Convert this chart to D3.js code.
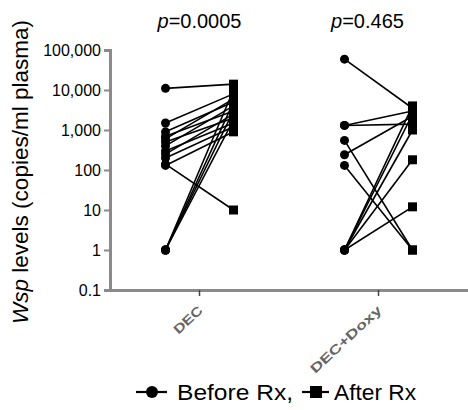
<!DOCTYPE html>
<html>
<head>
<meta charset="utf-8">
<script src="https://cdn.jsdelivr.net/npm/d3@7"></script>
<style>
  body { margin: 0; background: #fff; }
  text { font-family: "Liberation Sans", Arial, sans-serif; }
</style>
</head>
<body>
<div id="chart"></div>
<script>
// groups on the x axis
const categories = ["DEC", "DEC+Doxy"];
const pValues = ["0.0005", "0.465"];
const yTicks = [0.1, 1, 10, 100, 1000, 10000, 100000];

// paired Wsp levels (copies/ml plasma), one entry per subject
const decBefore = [11000, 1500, 900, 700, 600, 500, 400, 300, 250, 200, 140, 130, 1, 1, 1, 1];
const decAfter  = [14000, 8000, 5000, 3000, 6000, 2000, 4000, 1500, 2500, 1200, 10, 900, 10000, 5000, 3000, 1800];
const doxyBefore = [59000, 1300, 1300, 550, 240, 130, 1, 1, 1, 1, 1];
const doxyAfter  = [3500, 3000, 1400, 1, 2200, 1, 180, 12, 4000, 2500, 1000];

const width = 468, height = 410;
const margin = {top: 50, left: 110, bottom: 120, right: 0};

const svg = d3.select('#chart').append('svg')
  .attr('width', width).attr('height', height);

const x = d3.scaleBand()
  .domain(categories)
  .range([margin.left, width - margin.right]);

const pair = d3.scalePoint()
  .domain(['before', 'after'])
  .range([-34, 34]);

const y = d3.scaleLog()
  .domain([0.1, 100000])
  .range([height - margin.bottom, margin.top]);

const axisColor = '#8a8a8a';

// y axis
const yAxis = svg.append('g')
  .attr('transform', `translate(${margin.left},0)`)
  .call(d3.axisLeft(y).tickValues(yTicks).tickSize(6).tickPadding(3)
    .tickFormat(d => d < 1 ? '0.1' : d3.format(',')(d)));
yAxis.select('.domain').attr('stroke', axisColor).attr('stroke-width', 3);
yAxis.selectAll('.tick line').attr('stroke', axisColor).attr('stroke-width', 2);
yAxis.selectAll('.tick text').attr('fill', '#000').style('font-size', '16px');

// x axis
const xAxis = svg.append('g')
  .attr('transform', `translate(0,${height - margin.bottom})`)
  .call(d3.axisBottom(x).tickSize(6).tickSizeOuter(0));
xAxis.select('.domain').attr('stroke', axisColor).attr('stroke-width', 3);
xAxis.selectAll('.tick line').attr('stroke', '#444').attr('stroke-width', 1.5);
xAxis.selectAll('.tick text')
  .attr('fill', '#666')
  .style('font-size', '13px').style('font-weight', 'bold')
  .attr('text-anchor', 'end')
  .attr('x', 0).attr('y', 0).attr('dy', '0.35em')
  .attr('transform', 'translate(1,18) rotate(-43)')
  .attr('textLength', d => d.length * 11.5)
  .attr('lengthAdjust', 'spacingAndGlyphs');

// paired lines and markers
const groups = [
  {cat: categories[0], before: decBefore, after: decAfter},
  {cat: categories[1], before: doxyBefore, after: doxyAfter}
];

groups.forEach(g => {
  const cx = x(g.cat) + x.bandwidth() / 2;
  const rows = g.before.map((b, i) => ({b: b, a: g.after[i]}));
  const gg = svg.append('g');
  gg.selectAll('line').data(rows).enter().append('line')
    .attr('x1', cx + pair('before')).attr('y1', d => y(d.b))
    .attr('x2', cx + pair('after')).attr('y2', d => y(d.a))
    .attr('stroke', '#000').attr('stroke-width', 1.6);
  gg.selectAll('circle').data(rows).enter().append('circle')
    .attr('cx', cx + pair('before')).attr('cy', d => y(d.b))
    .attr('r', 4.5).attr('fill', '#000');
  gg.selectAll('rect').data(rows).enter().append('rect')
    .attr('x', cx + pair('after') - 4.5).attr('y', d => y(d.a) - 4.5)
    .attr('width', 9).attr('height', 9).attr('fill', '#000');
});

// p values above each group
categories.forEach((c, i) => {
  const t = svg.append('text')
    .attr('x', x(c) + x.bandwidth() / 2 + (i === 0 ? 0 : -11))
    .attr('y', 28)
    .attr('text-anchor', 'middle')
    .style('font-size', '20px');
  t.append('tspan').style('font-style', 'italic').text('p');
  t.append('tspan').text('=' + pValues[i]);
});

// y label
const yl = svg.append('text')
  .attr('transform', `translate(28,${(margin.top + height - margin.bottom) / 2 + 2}) rotate(-90)`)
  .attr('text-anchor', 'middle')
  .style('font-size', '22.5px');
yl.append('tspan').style('font-style', 'italic').text('Wsp');
yl.append('tspan').text(' levels (copies/ml plasma)');

// legend
const legend = svg.append('g').attr('transform', 'translate(0,392)');
legend.append('line').attr('x1', 136).attr('x2', 167).attr('stroke', '#000').attr('stroke-width', 2.2);
legend.append('circle').attr('cx', 152).attr('r', 6).attr('fill', '#000');
legend.append('text').attr('x', 177).attr('y', 8).style('font-size', '22px')
  .attr('textLength', 116).attr('lengthAdjust', 'spacingAndGlyphs').text('Before Rx,');
legend.append('line').attr('x1', 302).attr('x2', 329).attr('stroke', '#000').attr('stroke-width', 2.2);
legend.append('rect').attr('x', 310).attr('y', -6).attr('width', 12).attr('height', 12).attr('fill', '#000');
legend.append('text').attr('x', 334).attr('y', 8).style('font-size', '22px')
  .attr('textLength', 82).attr('lengthAdjust', 'spacingAndGlyphs').text('After Rx');
</script>
</body>
</html>
